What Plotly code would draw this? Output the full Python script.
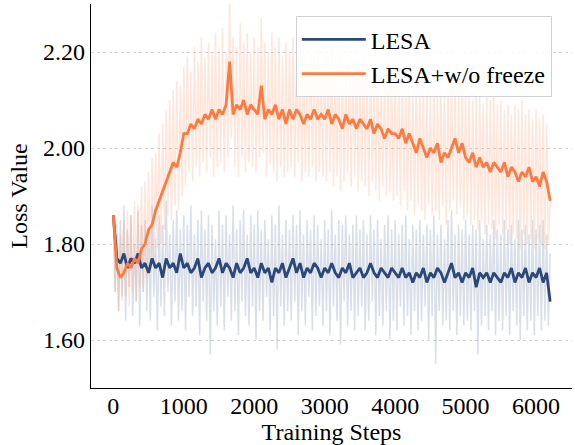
import plotly.graph_objects as go

steps = list(range(0, 6201, 50))
raw_steps = list(range(0, 6201, 25))

lesa_smooth = [
    1.86, 1.77, 1.76, 1.78, 1.75, 1.77, 1.76, 1.78, 1.75, 1.76,
    1.74, 1.77, 1.75, 1.76, 1.73, 1.77, 1.75, 1.76, 1.74, 1.78,
    1.75, 1.76, 1.74, 1.75, 1.77, 1.73, 1.75, 1.76, 1.74, 1.75,
    1.77, 1.74, 1.76, 1.75, 1.73, 1.76, 1.74, 1.75, 1.77, 1.74,
    1.75, 1.73, 1.76, 1.74, 1.75, 1.72, 1.75, 1.74, 1.76, 1.73,
    1.75, 1.77, 1.74, 1.76, 1.73, 1.75, 1.74, 1.76, 1.75, 1.73,
    1.75, 1.74, 1.76, 1.74, 1.73, 1.75, 1.74, 1.76, 1.73, 1.74,
    1.75, 1.73, 1.74, 1.76, 1.74, 1.73, 1.75, 1.74, 1.73, 1.75,
    1.74, 1.73, 1.75, 1.73, 1.74, 1.72, 1.74, 1.73, 1.75, 1.72,
    1.74, 1.73, 1.75, 1.74, 1.72, 1.74, 1.76, 1.73, 1.74, 1.72,
    1.74, 1.73, 1.75, 1.71, 1.74, 1.73, 1.74, 1.72, 1.74, 1.73,
    1.72, 1.74, 1.73, 1.75, 1.72, 1.74, 1.73, 1.75, 1.72, 1.74,
    1.73, 1.75, 1.72, 1.74, 1.68,
]

nofreeze_smooth = [
    1.86, 1.75, 1.73, 1.74, 1.76, 1.75, 1.77, 1.76, 1.79, 1.80,
    1.83, 1.84, 1.87, 1.89, 1.91, 1.93, 1.95, 1.97, 1.96, 1.99,
    2.03, 2.03, 2.05, 2.04, 2.06, 2.05, 2.07, 2.06, 2.08, 2.06,
    2.08, 2.07, 2.09, 2.18, 2.07, 2.09, 2.08, 2.10, 2.07, 2.09,
    2.08, 2.07, 2.13, 2.06, 2.08, 2.07, 2.09, 2.06, 2.08, 2.05,
    2.08, 2.06, 2.08, 2.07, 2.05, 2.07, 2.06, 2.08, 2.06, 2.07,
    2.06, 2.08, 2.05, 2.07, 2.06, 2.04, 2.07, 2.05, 2.06, 2.04,
    2.06, 2.05, 2.04, 2.06, 2.03, 2.05, 2.04, 2.02, 2.04, 2.03,
    2.03, 2.02, 2.04, 2.01, 2.03, 2.01, 1.99, 2.02, 2.00, 1.98,
    2.00, 1.99, 2.01, 1.97, 1.99, 1.98, 2.00, 2.02, 1.99, 2.01,
    1.98, 1.97, 1.99, 1.96, 1.98, 1.96, 1.97, 1.95, 1.97, 1.96,
    1.95, 1.97, 1.94, 1.96, 1.95, 1.93, 1.95, 1.94, 1.96, 1.93,
    1.94, 1.92, 1.95, 1.93, 1.89,
]

lesa_raw = [
    1.86, 1.70, 1.82, 1.66, 1.85, 1.69, 1.88, 1.64, 1.83, 1.71, 1.86, 1.65, 1.80, 1.68, 1.87, 1.63, 1.84, 1.70, 1.85, 1.66,
    1.83, 1.64, 1.88, 1.69, 1.81, 1.62, 1.86, 1.67, 1.84, 1.65, 1.89, 1.70, 1.82, 1.63, 1.85, 1.68, 1.87, 1.64, 1.83, 1.66,
    1.86, 1.62, 1.84, 1.69, 1.88, 1.65, 1.82, 1.67, 1.85, 1.61, 1.87, 1.68, 1.83, 1.64, 1.86, 1.57, 1.84, 1.66, 1.81, 1.63,
    1.87, 1.67, 1.84, 1.62, 1.86, 1.69, 1.82, 1.64, 1.88, 1.66, 1.83, 1.61, 1.85, 1.68, 1.87, 1.65, 1.82, 1.63, 1.86, 1.67,
    1.84, 1.60, 1.87, 1.66, 1.83, 1.64, 1.85, 1.69, 1.81, 1.62, 1.86, 1.65, 1.84, 1.58, 1.88, 1.67, 1.82, 1.63, 1.85, 1.66,
    1.83, 1.64, 1.86, 1.68, 1.84, 1.61, 1.87, 1.66, 1.82, 1.63, 1.85, 1.69, 1.83, 1.62, 1.86, 1.65, 1.84, 1.67, 1.81, 1.63,
    1.85, 1.66, 1.83, 1.61, 1.87, 1.67, 1.82, 1.64, 1.85, 1.59, 1.84, 1.68, 1.86, 1.63, 1.82, 1.66, 1.84, 1.62, 1.86, 1.65,
    1.83, 1.67, 1.85, 1.62, 1.82, 1.64, 1.86, 1.68, 1.83, 1.61, 1.85, 1.65, 1.81, 1.63, 1.84, 1.66, 1.86, 1.60, 1.83, 1.64,
    1.85, 1.62, 1.82, 1.67, 1.84, 1.63, 1.86, 1.65, 1.81, 1.61, 1.84, 1.66, 1.83, 1.62, 1.85, 1.64, 1.82, 1.67, 1.84, 1.60,
    1.83, 1.65, 1.86, 1.55, 1.82, 1.66, 1.84, 1.63, 1.81, 1.64, 1.85, 1.62, 1.87, 1.66, 1.82, 1.61, 1.84, 1.65, 1.83, 1.63,
    1.85, 1.64, 1.82, 1.62, 1.84, 1.66, 1.83, 1.57, 1.85, 1.63, 1.81, 1.65, 1.84, 1.62, 1.82, 1.66, 1.85, 1.61, 1.83, 1.64,
    1.82, 1.62, 1.85, 1.65, 1.83, 1.61, 1.84, 1.66, 1.81, 1.63, 1.85, 1.60, 1.83, 1.65, 1.84, 1.62, 1.82, 1.64, 1.85, 1.61,
    1.83, 1.65, 1.84, 1.62, 1.85, 1.64, 1.82, 1.63, 1.78,
]

nofreeze_raw = [
    1.86, 1.70, 1.84, 1.66, 1.82, 1.68, 1.85, 1.69, 1.87, 1.67, 1.86, 1.70, 1.89, 1.68, 1.88, 1.71, 1.92, 1.70, 1.93, 1.73,
    1.95, 1.74, 1.98, 1.76, 1.99, 1.79, 2.03, 1.80, 2.05, 1.83, 2.08, 1.86, 2.10, 1.85, 2.12, 1.88, 2.14, 1.87, 2.13, 1.90,
    2.17, 1.92, 2.19, 1.95, 2.16, 1.93, 2.21, 1.96, 2.18, 1.94, 2.23, 1.97, 2.19, 1.95, 2.22, 1.98, 2.20, 1.94, 2.24, 1.96,
    2.21, 1.97, 2.25, 1.95, 2.20, 1.98, 2.32, 2.02, 2.23, 1.96, 2.21, 1.94, 2.26, 1.98, 2.22, 1.95, 2.24, 1.97, 2.20, 1.96,
    2.23, 1.95, 2.21, 1.98, 2.27, 1.99, 2.22, 1.94, 2.20, 1.97, 2.24, 1.95, 2.21, 1.93, 2.23, 1.96, 2.19, 1.94, 2.22, 1.95,
    2.20, 1.96, 2.23, 1.94, 2.19, 1.97, 2.22, 1.93, 2.20, 1.95, 2.18, 1.94, 2.21, 1.96, 2.19, 1.93, 2.22, 1.95, 2.18, 1.94,
    2.21, 1.93, 2.19, 1.95, 2.22, 1.92, 2.18, 1.94, 2.20, 1.91, 2.19, 1.93, 2.17, 1.95, 2.21, 1.92, 2.18, 1.94, 2.19, 1.91,
    2.18, 1.93, 2.20, 1.92, 2.17, 1.90, 2.19, 1.93, 2.16, 1.91, 2.18, 1.89, 2.17, 1.92, 2.15, 1.90, 2.18, 1.91, 2.16, 1.89,
    2.17, 1.90, 2.15, 1.88, 2.16, 1.91, 2.14, 1.87, 2.15, 1.89, 2.13, 1.86, 2.16, 1.88, 2.12, 1.87, 2.14, 1.85, 2.13, 1.88,
    2.12, 1.86, 2.14, 1.87, 2.11, 1.85, 2.13, 1.88, 2.12, 1.84, 2.14, 1.87, 2.15, 1.89, 2.13, 1.86, 2.12, 1.88, 2.14, 1.85,
    2.11, 1.86, 2.12, 1.84, 2.10, 1.85, 2.12, 1.83, 2.11, 1.85, 2.09, 1.82, 2.11, 1.84, 2.10, 1.83, 2.12, 1.81, 2.09, 1.84,
    2.10, 1.82, 2.08, 1.83, 2.09, 1.80, 2.07, 1.82, 2.09, 1.81, 2.08, 1.79, 2.10, 1.82, 2.07, 1.80, 2.08, 1.81, 2.06, 1.79,
    2.08, 1.81, 2.06, 1.80, 2.07, 1.79, 2.05, 1.80, 1.89,
]

x_ticks = [0, 1000, 2000, 3000, 4000, 5000, 6000]
y_ticks = [1.60, 1.80, 2.00, 2.20]

BLUE = "#2c487a"
ORANGE = "#ff7a40"
FONT = "Liberation Serif"

fig = go.Figure()
fig.add_trace(go.Scatter(x=raw_steps, y=lesa_raw, mode="lines", showlegend=False,
                         line=dict(color="rgba(110,130,170,0.26)", width=1.5),
                         hoverinfo="skip"))
fig.add_trace(go.Scatter(x=raw_steps, y=nofreeze_raw, mode="lines", showlegend=False,
                         line=dict(color="rgba(255,150,105,0.24)", width=1.5),
                         hoverinfo="skip"))
fig.add_trace(go.Scatter(x=steps, y=lesa_smooth, mode="lines", name="LESA",
                         line=dict(color=BLUE, width=2.8)))
fig.add_trace(go.Scatter(x=steps, y=nofreeze_smooth, mode="lines", name="LESA+w/o freeze",
                         line=dict(color=ORANGE, width=2.8)))

fig.update_layout(
    width=575, height=445,
    margin=dict(l=91, r=3, t=4, b=57, autoexpand=False),
    plot_bgcolor="white", paper_bgcolor="white",
    font=dict(family=FONT, size=24, color="black"),
    legend=dict(x=0.958, y=0.968, xanchor="right", yanchor="top",
                bgcolor="rgba(255,255,255,0.85)", bordercolor="#d0d0d0", borderwidth=1,
                font=dict(family=FONT, size=24), tracegroupgap=0, itemwidth=64),
    xaxis=dict(range=[-317, 6510], tickvals=x_ticks, showgrid=False, zeroline=False,
               showline=True, linecolor="black", linewidth=1.3, ticks="",
               automargin=False, tickfont=dict(size=24), ticklabelstandoff=-4,
               title=dict(text="Training Steps", font=dict(size=24), standoff=1)),
    yaxis=dict(range=[1.50, 2.30], tickvals=y_ticks, tickformat=".2f",
               showgrid=True, gridcolor="#d4d4d4", griddash="dot", gridwidth=1,
               zeroline=False, showline=True, linecolor="black", linewidth=1.3, ticks="",
               automargin=False, tickfont=dict(size=24),
               title=dict(text="Loss Value", font=dict(size=24), standoff=8)),
)

fig.write_html("out.html", config={"displayModeBar": False},
               post_script="document.body.style.margin='0';document.body.style.overflow='hidden';")
